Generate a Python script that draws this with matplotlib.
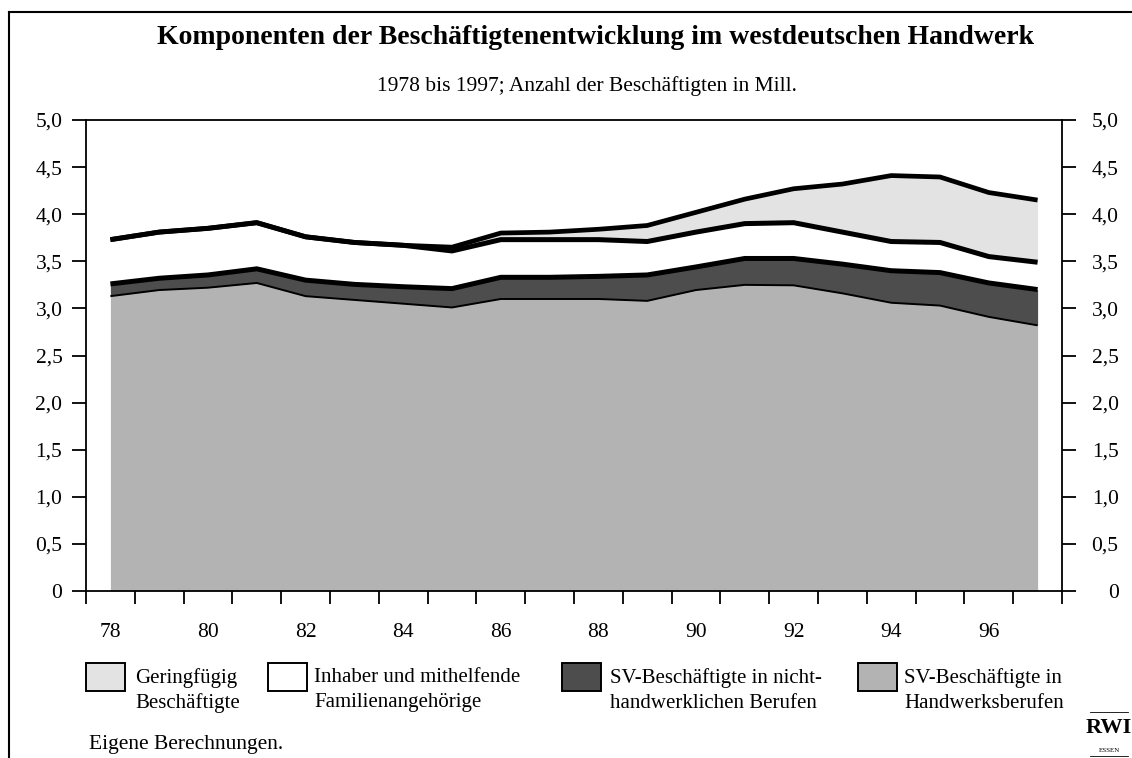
import matplotlib
matplotlib.use('Agg')
import matplotlib.pyplot as plt
import matplotlib.transforms as mtransforms
import numpy as np
from matplotlib.patches import Rectangle
from matplotlib.lines import Line2D

# ---------------- data (Mill. Beschäftigte) ----------------
years = list(range(1978, 1998))
x_labels = ['78', '80', '82', '84', '86', '88', '90', '92', '94', '96']
y_labels = ['0', '0,5', '1,0', '1,5', '2,0', '2,5', '3,0', '3,5', '4,0', '4,5', '5,0']

sv_handwerk = [3.13, 3.195, 3.22, 3.27, 3.13, 3.09, 3.05, 3.01, 3.10, 3.10,
               3.10, 3.08, 3.195, 3.25, 3.245, 3.16, 3.06, 3.03, 2.91, 2.82]
sv_nicht = [0.13, 0.125, 0.135, 0.15, 0.17, 0.165, 0.18, 0.20, 0.23, 0.23,
            0.24, 0.275, 0.245, 0.28, 0.285, 0.31, 0.34, 0.35, 0.36, 0.38]
inhaber = [0.47, 0.49, 0.495, 0.49, 0.46, 0.445, 0.44, 0.40, 0.40, 0.40,
           0.39, 0.355, 0.37, 0.37, 0.38, 0.34, 0.31, 0.32, 0.28, 0.29]
geringfuegig = [0.0, 0.0, 0.0, 0.0, 0.0, 0.0, 0.0, 0.04, 0.07, 0.08,
                0.11, 0.17, 0.21, 0.26, 0.36, 0.51, 0.70, 0.695, 0.68, 0.66]

legend_labels = ['Geringfügig\nBeschäftigte',
                 'Inhaber und mithelfende\nFamilienangehörige',
                 'SV-Beschäftigte in nicht-\nhandwerklichen Berufen',
                 'SV-Beschäftigte in\nHandwerksberufen']
colors = ['#e3e3e3', '#ffffff', '#4d4d4d', '#b3b3b3']

title = 'Komponenten der Beschäftigtenentwicklung im westdeutschen Handwerk'
subtitle = '1978 bis 1997; Anzahl der Beschäftigten in Mill.'
source = 'Eigene Berechnungen.'

# ---------------- figure ----------------
plt.rcParams['font.family'] = ['Liberation Serif', 'DejaVu Serif']
W, H = 1132, 758
fig = plt.figure(figsize=(W / 100, H / 100), dpi=100)

def fx(px):
    return px / W

def fy(py):
    return 1 - py / H

ax = fig.add_axes([fx(86), fy(591), fx(1062) - fx(86), fy(120) - fy(591)])

x = np.arange(len(years))
b1 = np.array(sv_handwerk)
b2 = b1 + np.array(sv_nicht)
b3 = b2 + np.array(inhaber)
b4 = b3 + np.array(geringfuegig)

ax.fill_between(x, 0, b1, color=colors[3], lw=0)
ax.fill_between(x, b1, b2, color=colors[2], lw=0)
ax.fill_between(x, b2, b3, color=colors[1], lw=0)
ax.fill_between(x, b3, b4, color=colors[0], lw=0)
ax.plot(x, b1, color='black', lw=1.4, solid_capstyle='butt')
ax.plot(x, b2, color='black', lw=3.6, solid_capstyle='butt')
ax.plot(x, b3, color='black', lw=3.6, solid_capstyle='butt')
ax.plot(x, b4, color='black', lw=3.4, solid_capstyle='butt')

ax.set_xlim(-0.5, len(years) - 0.5)
ax.set_ylim(0, 5)

for s in ax.spines.values():
    s.set_linewidth(1.3)
    s.set_color('black')

# y axis ticks both sides
yt = np.arange(0, 5.01, 0.5)
ax.set_yticks(yt)
ax.set_yticklabels(y_labels)
ax.tick_params(axis='y', which='major', direction='out', length=10, width=1.3,
               left=True, right=True, labelleft=True, labelright=True,
               labelsize=15.5, pad=7)
offset = mtransforms.ScaledTranslation(33 / 100, 0, fig.dpi_scale_trans)
for t in ax.yaxis.get_major_ticks():
    t.label2.set_horizontalalignment('right')
    t.label2.set_transform(t.label2.get_transform() + offset)

# x axis: category bands
ax.set_xticks(np.arange(-0.5, len(years), 1.0))
ax.set_xticklabels([])
ax.set_xticks(np.arange(0, len(years) - 1, 2), minor=True)
ax.set_xticklabels(x_labels, minor=True)
ax.tick_params(axis='x', which='major', direction='out', length=9, width=1.3)
ax.tick_params(axis='x', which='minor', length=0, labelsize=15.5, pad=23)

# ---------------- texts ----------------
fig.text(fx(596), fy(38), title, ha='center', va='center',
         fontsize=20, fontweight='bold')
fig.text(fx(587), fy(86), subtitle, ha='center', va='center', fontsize=15.5)

# legend
patch_x = [86, 268, 562, 858]
text_x = [135, 314, 610, 904]
for px, tx, lab, c in zip(patch_x, text_x, legend_labels, colors):
    fig.patches.append(Rectangle((fx(px), fy(691)), fx(39), fy(0) - fy(28),
                                 transform=fig.transFigure, facecolor=c,
                                 edgecolor='black', lw=1.4))
    for i, line in enumerate(lab.split('\n')):
        fig.text(fx(tx), fy(678 + 25 * i), line, ha='left', va='center',
                 fontsize=15)

fig.text(fx(89), fy(745), source, ha='left', va='center', fontsize=15.5)

# RWI logo
fig.text(fx(1109), fy(728), 'RWI', ha='center', va='center', fontsize=16,
         fontweight='bold')
fig.text(fx(1109), fy(751), 'ESSEN', ha='center', va='center', fontsize=5)
fig.add_artist(Line2D([fx(1090), fx(1128)], [fy(712), fy(712)], color='black', lw=0.6))
fig.add_artist(Line2D([fx(1090), fx(1128)], [fy(756), fy(756)], color='black', lw=0.6))

# outer frame (left + top)
fig.add_artist(Line2D([fx(8.5), fx(8.5)], [0, fy(11.5)], color='black', lw=1.5))
fig.add_artist(Line2D([fx(8.5), 1], [fy(11.5), fy(11.5)], color='black', lw=1.5))

fig.savefig('out.png', dpi=100)
